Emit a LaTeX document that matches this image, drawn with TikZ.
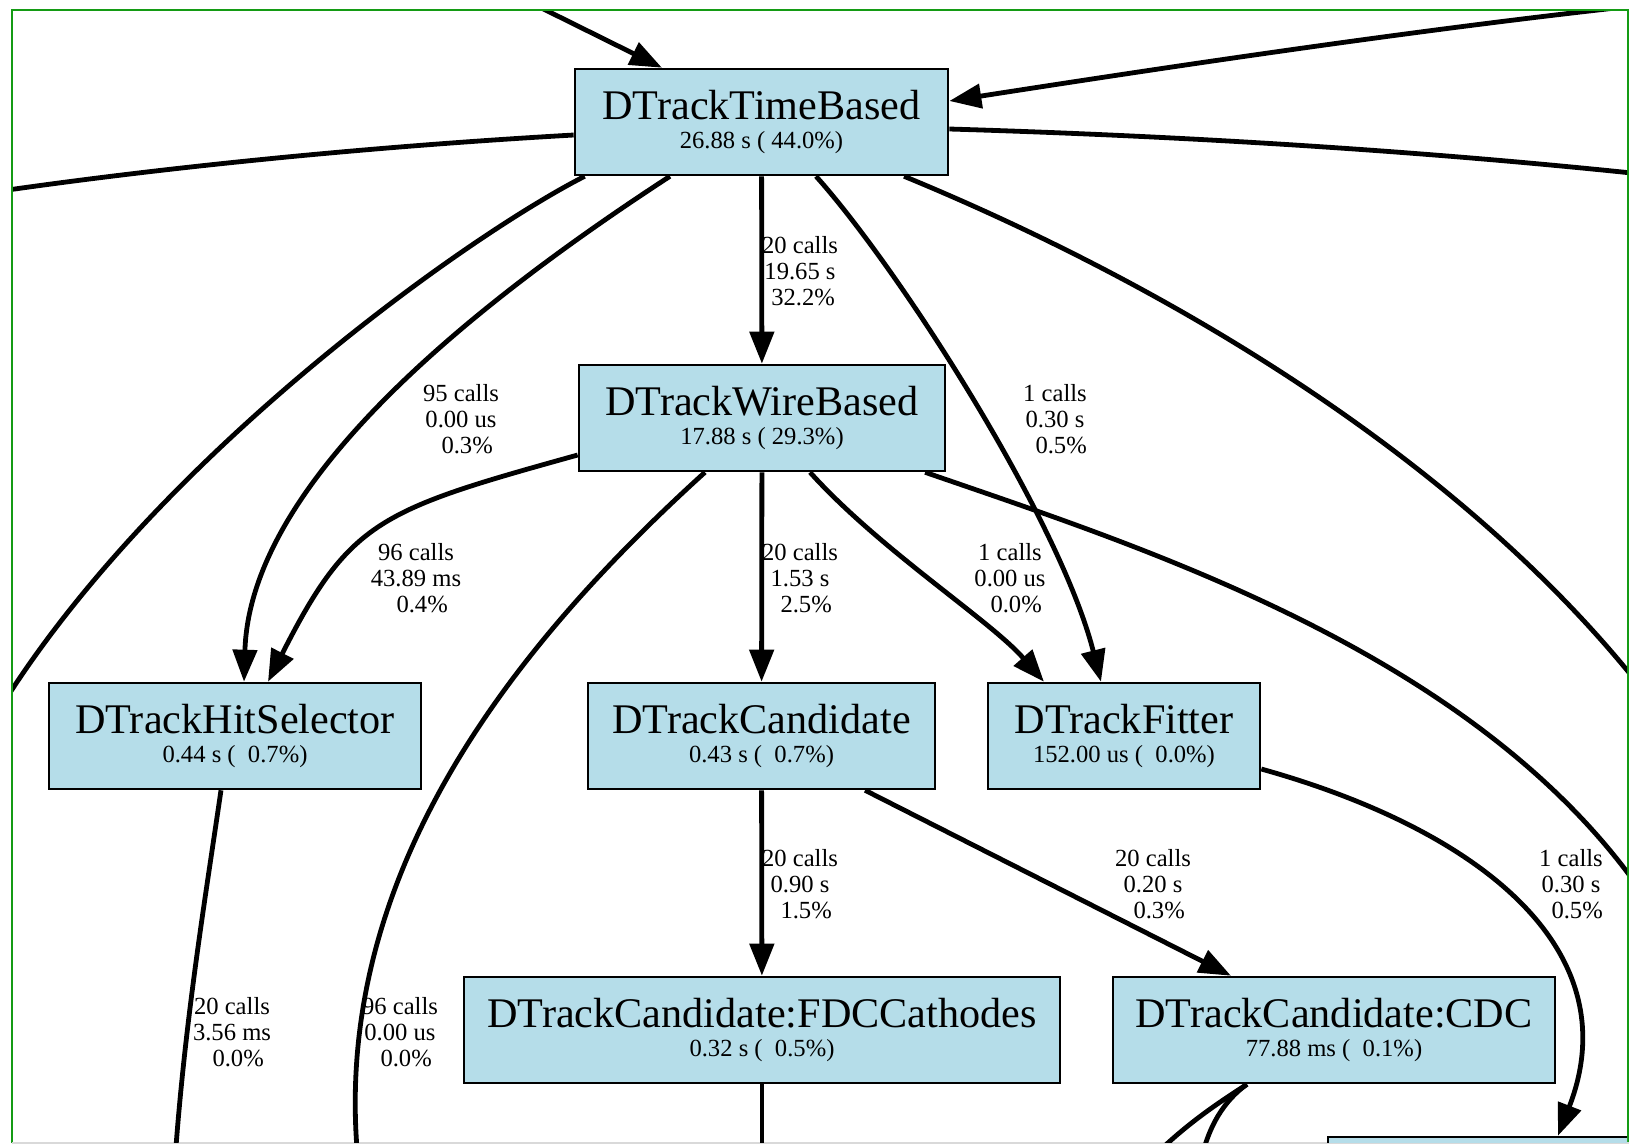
\documentclass[tikz,border=0pt]{standalone}
\usepackage{fontspec}
\setmainfont{Liberation Serif}
\usetikzlibrary{arrows.meta}

\definecolor{nodeblue}{RGB}{181,221,233}
\definecolor{framegreen}{RGB}{20,155,20}

\newcommand{\fname}[1]{{\fontsize{12}{8.25}\selectfont #1}}
\newcommand{\pad}{\hspace*{.25em}}

\begin{document}
\begin{tikzpicture}[
  x=0.01cm, y=-0.01cm,
  func/.style={draw, line width=0.025cm, fill=nodeblue, minimum height=1.06cm,
    inner sep=0, align=center, font=\fontsize{7}{8.25}\selectfont},
  calls/.style={font=\fontsize{7}{7.4}\selectfont, align=center, inner sep=0},
  edge/.style={line width=0.048cm, -{Triangle[length=0.32cm, width=0.24cm]}},
  cut/.style={line width=0.048cm},
]
\useasboundingbox (0,0) rectangle (1629,1145);

%% ── window frame ─────────────────────────────────────────────
\draw[framegreen, line width=0.025cm] (12,1143) -- (12,10) -- (1628,10) -- (1628,1143);
\draw[gray!30, line width=0.02cm] (12,1143) -- (1629,1143);

\begin{scope}
\clip (13,11) rectangle (1627,1142);

%% ── functions ────────────────────────────────────────────────
\node[func, minimum width=3.73cm] (TB) at (761.5,122) {\fname{DTrackTimeBased}\\26.88 s ( 44.0\%)};
\node[func, minimum width=3.66cm] (WB) at (762,418) {\fname{DTrackWireBased}\\17.88 s ( 29.3\%)};
\node[func, minimum width=3.72cm] (HS) at (235,736) {\fname{DTrackHitSelector}\\0.44 s (\ \ 0.7\%)};
\node[func, minimum width=3.47cm] (CA) at (761.5,736) {\fname{DTrackCandidate}\\0.43 s (\ \ 0.7\%)};
\node[func, minimum width=2.72cm] (FI) at (1124,736) {\fname{DTrackFitter}\\152.00 us (\ \ 0.0\%)};
\node[func, minimum width=5.96cm] (FDC) at (762,1030) {\fname{DTrackCandidate:FDCCathodes}\\0.32 s (\ \ 0.5\%)};
\node[func, minimum width=4.42cm] (CDC) at (1334,1030) {\fname{DTrackCandidate:CDC}\\77.88 ms (\ \ 0.1\%)};
\node[func, minimum width=3.44cm] (NX) at (1500,1190) {};

%% ends that leave the window
\coordinate (offT)  at (485,-20);
\coordinate (offTR) at (1680,1);
\coordinate (offL1) at (-20,194);
\coordinate (offL2) at (-10,725);
\coordinate (offR0) at (1660,176);
\coordinate (offR1) at (1680,740);
\coordinate (offR2) at (1660,920);
\coordinate (offB1) at (358,1160);
\coordinate (offB2) at (175,1160);
\coordinate (offB3) at (762,1170);
\coordinate (offB4) at (1150,1160);
\coordinate (offB5) at (1200,1165);

%% ── calls ────────────────────────────────────────────────────
\draw[edge] (offT) -- ([xshift=-0.995cm]TB.north);
\draw[edge] (offTR) .. controls (1450,25) and (1200,62) .. ([yshift=0.21cm]TB.east);
\draw[cut] ([yshift=-0.13cm]TB.west) .. controls (380,146) and (170,166) .. (offL1);
\draw[cut] ([yshift=-0.07cm]TB.east) .. controls (1150,135) and (1400,148) .. (offR0);
\draw[cut] ([xshift=0.11cm]TB.south west) .. controls (460,240) and (140,470) .. (offL2);
\draw[edge] ([xshift=-0.915cm]TB.south) .. controls (480,300) and (250,480) .. ([xshift=0.09cm]HS.north);
\draw[edge] (TB) -- (WB);
\draw[edge] ([xshift=0.545cm]TB.south) .. controls (900,270) and (1060,520) .. ([xshift=-0.23cm]FI.north);
\draw[cut] ([xshift=1.425cm]TB.south) .. controls (1180,290) and (1500,480) .. (offR1);

\draw[edge] ([yshift=-0.37cm]WB.west) .. controls (380,510) and (350,520) .. ([xshift=0.33cm]HS.north);
\draw[cut] ([xshift=-0.57cm]WB.south) .. controls (520,640) and (330,870) .. (offB1);
\draw[edge] (WB) -- (CA);
\draw[edge] ([xshift=0.48cm]WB.south) .. controls (880,550) and (990,620) .. ([xshift=-0.8cm]FI.north);
\draw[cut] ([xshift=1.63cm]WB.south) .. controls (1150,550) and (1500,660) .. (offR2);

\draw[cut] ([xshift=-0.14cm]HS.south) .. controls (205,900) and (185,1020) .. (offB2);
\draw[edge] (CA) -- (FDC);
\draw[edge] ([xshift=1.035cm]CA.south) -- ([xshift=-1.03cm]CDC.north);
\draw[edge] ([yshift=-0.33cm]FI.east) .. controls (1480,830) and (1630,950) .. ([xshift=0.58cm]NX.north);

\draw[cut] (FDC) -- (offB3);
\draw[cut] ([xshift=-0.87cm]CDC.south) .. controls (1215,1105) and (1185,1125) .. (offB4);
\draw[cut] ([xshift=-0.87cm]CDC.south) .. controls (1225,1100) and (1208,1125) .. (offB5);

%% ── call counts ──────────────────────────────────────────────
\node[calls] (cTBWB) at (800,271) {20 calls\\19.65 s\\\pad 32.2\%};
\node[calls] (cTBHS) at (461,419) {95 calls\\0.00 us\\\pad\pad 0.3\%};
\node[calls] (cTBFI) at (1055,419) {1 calls\\0.30 s\\\pad\pad 0.5\%};
\node[calls] (cWBHS) at (416,578) {96 calls\\43.89 ms\\\pad\pad 0.4\%};
\node[calls] (cWBCA) at (800,578) {20 calls\\1.53 s\\\pad\pad 2.5\%};
\node[calls] (cWBFI) at (1010,578) {1 calls\\0.00 us\\\pad\pad 0.0\%};
\node[calls] (cWBX) at (400,1032) {96 calls\\0.00 us\\\pad\pad 0.0\%};
\node[calls] (cHSX) at (232,1032) {20 calls\\3.56 ms\\\pad\pad 0.0\%};
\node[calls] (cCAFDC) at (800,884) {20 calls\\0.90 s\\\pad\pad 1.5\%};
\node[calls] (cCACDC) at (1153,884) {20 calls\\0.20 s\\\pad\pad 0.3\%};
\node[calls] (cFINX) at (1571,884) {1 calls\\0.30 s\\\pad\pad 0.5\%};
\end{scope}
\end{tikzpicture}
\end{document}
